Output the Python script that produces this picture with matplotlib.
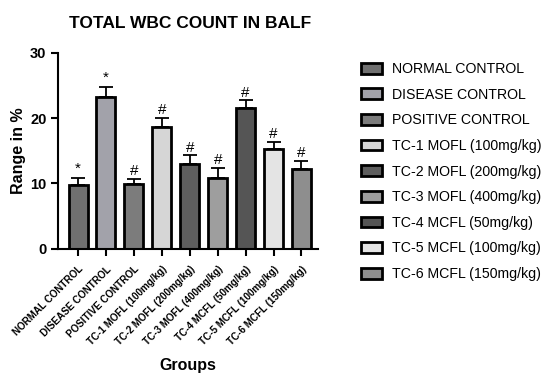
import matplotlib.pyplot as plt

plt.rcParams['font.family'] = ['Liberation Sans', 'DejaVu Sans']

# data
groups = ['NORMAL CONTROL', 'DISEASE CONTROL', 'POSITIVE CONTROL',
          'TC-1 MOFL (100mg/kg)', 'TC-2 MOFL (200mg/kg)', 'TC-3 MOFL (400mg/kg)',
          'TC-4 MCFL (50mg/kg)', 'TC-5 MCFL (100mg/kg)', 'TC-6 MCFL (150mg/kg)']
means = [9.7, 23.2, 9.9, 18.7, 13.0, 10.8, 21.5, 15.3, 12.2]
errs = [1.2, 1.6, 0.8, 1.3, 1.3, 1.6, 1.2, 1.1, 1.2]
marks = ['*', '*', '#', '#', '#', '#', '#', '#', '#']
colors = ['#707070', '#a2a2aa', '#7c7c7c', '#d6d6d6', '#5e5e5e',
          '#9e9e9e', '#555555', '#e4e4e4', '#8e8e8e']

fig = plt.figure(figsize=(5.44, 3.76), dpi=100)
ax = fig.add_axes([0.107, 0.338, 0.478, 0.522])

x = list(range(len(groups)))
bars = ax.bar(x, means, width=0.68, color=colors, edgecolor='black', linewidth=2,
              label=groups, zorder=2)
ax.errorbar(x, means, yerr=[[0] * len(errs), errs], fmt='none', ecolor='black',
            elinewidth=1.3, capsize=5, capthick=1.3, zorder=1)

for xi, m, e, s in zip(x, means, errs, marks):
    off = 1.4 if s == '*' else 1.2
    ax.text(xi, m + e + off, s, ha='center', va='center', fontsize=11 if s == '*' else 11)

ax.set_xlim(-0.71, 8.6)
ax.set_ylim(0, 30)
ax.set_yticks([0, 10, 20, 30])
ax.set_xticks(x)
ax.set_xticklabels(groups, rotation=45, ha='right', rotation_mode='anchor',
                   fontsize=7.1, fontweight='bold')
for lab in ax.get_yticklabels():
    lab.set_fontweight('bold')
    lab.set_fontsize(10.5)
ax.tick_params(width=1.5, length=5)
ax.tick_params(axis='x', pad=6)
ax.spines['top'].set_visible(False)
ax.spines['right'].set_visible(False)
ax.spines['left'].set_linewidth(1.5)
ax.spines['bottom'].set_linewidth(1.5)

ax.set_ylabel('Range in %', fontsize=11.5, fontweight='bold', labelpad=3)
ax.set_xlabel('Groups', fontsize=11.5, fontweight='bold', labelpad=8)
fig.text(0.35, 0.937, 'TOTAL WBC COUNT IN BALF', ha='center', va='center',
         fontsize=12.5, fontweight='bold')

fig.legend(bars, groups, loc='upper left', bbox_to_anchor=(0.656, 0.846),
           frameon=False, fontsize=10.2, handlelength=1.5, handleheight=0.8,
           labelspacing=0.82, handletextpad=0.7, borderaxespad=0, borderpad=0.3)

fig.savefig('out.png')
